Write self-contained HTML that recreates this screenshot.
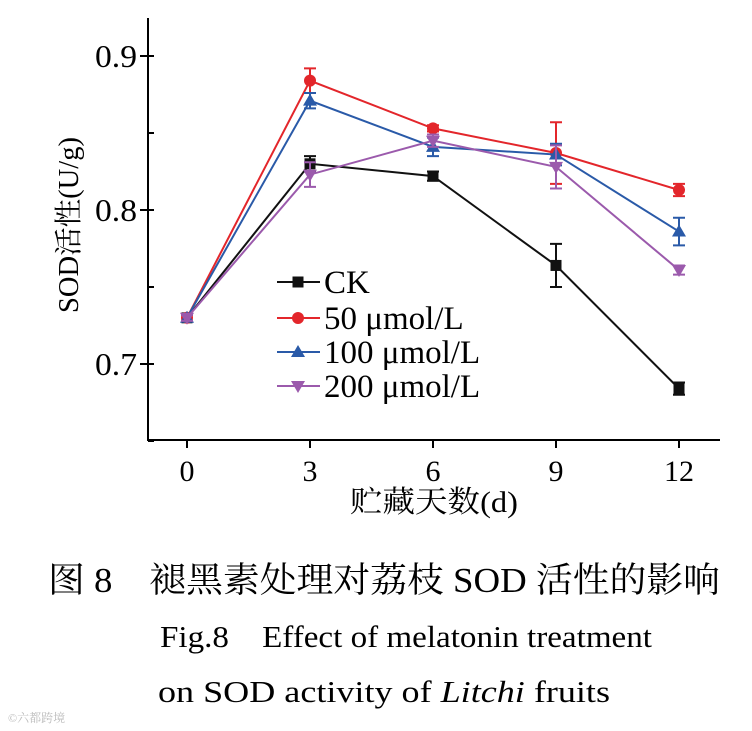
<!DOCTYPE html>
<html><head><meta charset="utf-8"><style>
html,body{margin:0;padding:0;background:#fff;}
svg{display:block;}
text{font-family:"Liberation Serif","Noto Serif CJK SC",serif;}
</style></head><body>
<svg id="chart" width="752" height="731" viewBox="0 0 752 731" xmlns="http://www.w3.org/2000/svg">
<g id="axes"></g>
<g id="series"></g>
<g id="legend"></g>
<text x="78" y="225" font-size="28" text-anchor="middle" textLength="176" lengthAdjust="spacingAndGlyphs" transform="rotate(-90 78 225)">SOD活性(U/g)</text>
<text x="434" y="512" font-size="30" text-anchor="middle" textLength="168" lengthAdjust="spacingAndGlyphs">贮藏天数(d)</text>
<text x="48" y="592" font-size="35" textLength="672" lengthAdjust="spacingAndGlyphs">图 8　褪黑素处理对荔枝 SOD 活性的影响</text>
<text x="160" y="647" font-size="31" textLength="492" lengthAdjust="spacingAndGlyphs">Fig.8　Effect of melatonin treatment</text>
<text x="158" y="702" font-size="31" textLength="452" lengthAdjust="spacingAndGlyphs">on SOD activity of <tspan font-style="italic">Litchi</tspan> fruits</text>
<text x="8" y="722" font-size="12" fill="#bbb">©六都跨境</text>
</svg>
<script>
const days = [0, 3, 6, 9, 12];
const seriesNames = ["CK", "50 μmol/L", "100 μmol/L", "200 μmol/L"];
const ckValues = [0.730, 0.830, 0.822, 0.764, 0.684];
const ckErrors = [0.002, 0.005, 0.003, 0.014, 0.004];
const v50Values = [0.730, 0.884, 0.853, 0.837, 0.813];
const v50Errors = [0.002, 0.008, 0.002, 0.020, 0.004];
const v100Values = [0.730, 0.871, 0.841, 0.836, 0.786];
const v100Errors = [0.002, 0.005, 0.006, 0.007, 0.009];
const v200Values = [0.730, 0.823, 0.845, 0.828, 0.761];
const v200Errors = [0.002, 0.008, 0.004, 0.014, 0.003];
const yTicks = [0.7, 0.8, 0.9];
const yTickLabels = ["0.7", "0.8", "0.9"];
const yMinorTicks = [0.65, 0.75, 0.85];

const NS = "http://www.w3.org/2000/svg";
function xs(d){ return 187 + (d/3)*123; }
function ys(v){ return 210 - (v-0.8)*1540; }
function mk(tag, attrs, parent){ const e=document.createElementNS(NS,tag); for(const k in attrs) e.setAttribute(k,attrs[k]); parent.appendChild(e); return e; }

const axes=document.getElementById('axes');
let a=mk('line',{x1:148,y1:18,x2:148,y2:440,stroke:'#000','stroke-width':2},axes);


a=mk('line',{x1:147,y1:440,x2:720,y2:440,stroke:'#000','stroke-width':2},axes);


yTicks.forEach((t,i)=>{
  const y=ys(t);
  const tk=mk('line',{x1:140,y1:y,x2:154,y2:y,stroke:'#000','stroke-width':2},axes);
  
  
  const tl=mk('text',{x:137,y:y+11,'font-size':32,'text-anchor':'end',textLength:42,lengthAdjust:'spacingAndGlyphs'},axes);
  tl.textContent=yTickLabels[i];
  
  
});
yMinorTicks.forEach(t=>{
  const y=ys(t);
  const tk=mk('line',{x1:148,y1:y,x2:154,y2:y,stroke:'#000','stroke-width':2},axes);
  
  
});
days.forEach(d=>{
  const x=xs(d);
  const tk=mk('line',{x1:x,y1:440,x2:x,y2:448,stroke:'#000','stroke-width':2},axes);
  
  
  const tl=mk('text',{x:x,y:481,'font-size':30,'text-anchor':'middle'},axes);
  tl.textContent=String(d);
  
  
});

const colors=['#111','#e3262b','#2a5aa8','#9b5aac'];
const shapes=['square','circle','up','down'];
const vals=[ckValues,v50Values,v100Values,v200Values];
const errs=[ckErrors,v50Errors,v100Errors,v200Errors];
function marker(shape,x,y,c,parent){
  let e;
  if(shape==='square') e=mk('rect',{x:x-5.5,y:y-5.5,width:11,height:11,fill:c},parent);
  else if(shape==='circle') e=mk('circle',{cx:x,cy:y,r:6,fill:c},parent);
  else if(shape==='up') e=mk('polygon',{points:`${x},${y-7} ${x-7},${y+5} ${x+7},${y+5}`,fill:c},parent);
  else e=mk('polygon',{points:`${x},${y+7} ${x-7},${y-5} ${x+7},${y-5}`,fill:c},parent);
  return e;
}
const sg=document.getElementById('series');
vals.forEach((arr,s)=>{
  const g=mk('g',{},sg);
  
  
  const pl=mk('polyline',{points:arr.map((v,i)=>xs(days[i])+','+ys(v)).join(' '),fill:'none',stroke:colors[s],'stroke-width':2},g);
  
  
  arr.forEach((v,i)=>{
    const x=xs(days[i]), e=errs[s][i];
    const eb=mk('path',{d:`M${x},${ys(v+e)}V${ys(v-e)}M${x-6},${ys(v+e)}H${x+6}M${x-6},${ys(v-e)}H${x+6}`,stroke:colors[s],'stroke-width':2,fill:'none'},g);
    
    
    const m=marker(shapes[s],x,ys(v),colors[s],g);
    
    
  });
});
const lg=document.getElementById('legend');
const legendY=[282,318,352,386];
seriesNames.forEach((n,s)=>{
  const y=legendY[s];
  const g=mk('g',{},lg);
  
  
  mk('line',{x1:277,y1:y,x2:320,y2:y,stroke:colors[s],'stroke-width':2},g);
  marker(shapes[s],298,y,colors[s],g);
  const t=mk('text',{x:324,y:y+11,'font-size':33},g);
  t.textContent=n;
});
</script>
</body></html>
